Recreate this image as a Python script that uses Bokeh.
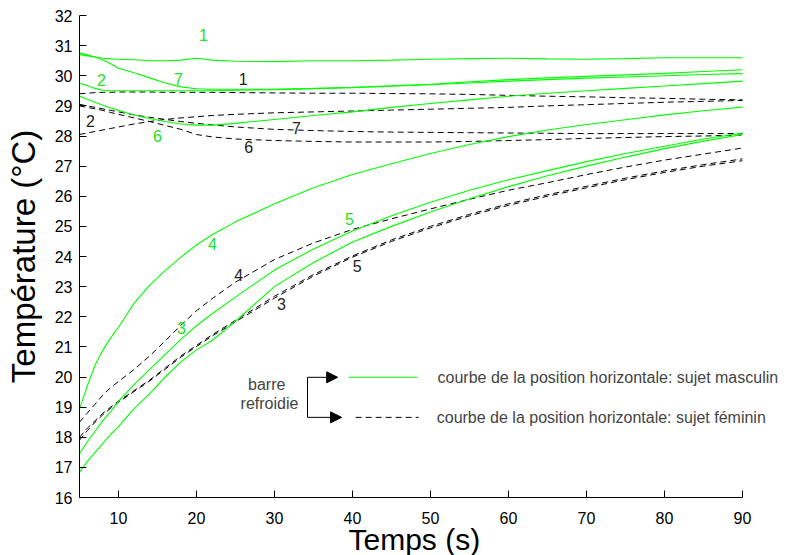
from bokeh.plotting import figure
from bokeh.models import FixedTicker, Arrow, NormalHead, Label, Range1d, Title
from bokeh.embed import file_html
from bokeh.resources import INLINE

# ---- data ----
time_s = [5, 6, 7, 8, 9, 10, 12, 14, 16, 18, 20, 22, 25, 30, 35, 40, 45, 50, 55, 60, 65, 70, 75, 80, 85, 90]

# male subject (green solid)
male_1 = [30.70, 30.66, 30.62, 30.58, 30.56, 30.55, 30.53, 30.50, 30.50, 30.52, 30.58, 30.52, 30.48, 30.47, 30.50, 30.50, 30.52, 30.55, 30.57, 30.58, 30.56, 30.55, 30.57, 30.60, 30.60, 30.60]
male_2 = [29.75, 29.68, 29.58, 29.52, 29.50, 29.50, 29.50, 29.50, 29.50, 29.50, 29.50, 29.50, 29.52, 29.54, 29.57, 29.60, 29.65, 29.70, 29.76, 29.82, 29.87, 29.92, 29.96, 30.00, 30.04, 30.07]
male_3 = [16.84, 17.20, 17.50, 17.80, 18.10, 18.35, 18.95, 19.45, 20.00, 20.50, 20.90, 21.21, 21.85, 23.00, 23.80, 24.48, 25.00, 25.48, 25.92, 26.32, 26.68, 27.00, 27.30, 27.58, 27.83, 28.05]
male_4 = [18.94, 19.70, 20.40, 20.90, 21.30, 21.65, 22.45, 23.05, 23.54, 23.98, 24.38, 24.72, 25.15, 25.75, 26.28, 26.72, 27.08, 27.42, 27.72, 27.98, 28.20, 28.38, 28.54, 28.70, 28.84, 28.96]
male_5 = [17.45, 17.85, 18.20, 18.55, 18.85, 19.20, 19.75, 20.25, 20.75, 21.25, 21.70, 22.10, 22.65, 23.55, 24.25, 24.85, 25.35, 25.80, 26.20, 26.55, 26.85, 27.15, 27.42, 27.66, 27.90, 28.10]
male_6 = [29.32, 29.22, 29.12, 29.02, 28.93, 28.85, 28.70, 28.58, 28.48, 28.40, 28.36, 28.36, 28.42, 28.55, 28.68, 28.80, 28.95, 29.08, 29.20, 29.32, 29.42, 29.50, 29.58, 29.66, 29.74, 29.82]
male_7 = [30.75, 30.70, 30.62, 30.52, 30.40, 30.25, 30.10, 29.93, 29.76, 29.63, 29.57, 29.55, 29.55, 29.55, 29.58, 29.62, 29.67, 29.72, 29.80, 29.87, 29.93, 29.98, 30.03, 30.08, 30.14, 30.20]

# female subject (black dashed)
female_1 = [29.40, 29.42, 29.44, 29.45, 29.45, 29.46, 29.46, 29.46, 29.45, 29.45, 29.45, 29.45, 29.44, 29.43, 29.42, 29.42, 29.41, 29.40, 29.38, 29.35, 29.32, 29.30, 29.27, 29.25, 29.22, 29.20]
female_2 = [28.05, 28.10, 28.15, 28.20, 28.25, 28.30, 28.40, 28.48, 28.55, 28.60, 28.64, 28.68, 28.72, 28.77, 28.80, 28.83, 28.86, 28.89, 28.92, 28.95, 29.00, 29.04, 29.08, 29.12, 29.15, 29.18]
female_3 = [18.00, 18.30, 18.55, 18.80, 19.00, 19.20, 19.55, 19.90, 20.30, 20.70, 21.05, 21.40, 21.88, 22.68, 23.40, 24.02, 24.55, 25.00, 25.40, 25.75, 26.05, 26.33, 26.60, 26.84, 27.05, 27.24]
female_4 = [18.50, 18.80, 19.10, 19.40, 19.65, 19.85, 20.25, 20.70, 21.20, 21.72, 22.20, 22.60, 23.15, 23.90, 24.45, 24.90, 25.25, 25.58, 25.90, 26.20, 26.45, 26.72, 26.97, 27.20, 27.40, 27.60]
female_5 = [17.90, 18.22, 18.50, 18.75, 18.96, 19.16, 19.52, 19.87, 20.26, 20.66, 21.01, 21.36, 21.83, 22.62, 23.35, 23.98, 24.50, 24.95, 25.35, 25.70, 26.00, 26.28, 26.55, 26.79, 27.00, 27.18]
female_6 = [29.00, 28.95, 28.90, 28.85, 28.78, 28.72, 28.60, 28.48, 28.35, 28.22, 28.05, 27.97, 27.90, 27.85, 27.82, 27.80, 27.80, 27.80, 27.82, 27.85, 27.88, 27.92, 27.95, 27.98, 28.00, 28.03]
female_7 = [29.05, 29.00, 28.95, 28.90, 28.85, 28.80, 28.70, 28.62, 28.55, 28.48, 28.42, 28.37, 28.30, 28.22, 28.18, 28.15, 28.13, 28.12, 28.11, 28.10, 28.09, 28.08, 28.08, 28.08, 28.08, 28.08]

x_ticks = [10, 20, 30, 40, 50, 60, 70, 80, 90]
y_ticks = list(range(16, 33))

curve_names = ["1", "2", "3", "4", "5", "6", "7"]
male_series = [male_1, male_2, male_3, male_4, male_5, male_6, male_7]
female_series = [female_1, female_2, female_3, female_4, female_5, female_6, female_7]

GREEN = "#00ff00"
LABEL_GREEN = "#22e022"
FONT = "Liberation Sans"

# frame: x from 5 to 90 drawn on the axis, extra room on the right for the legend text
p = figure(width=792, height=555, x_range=Range1d(5, 95.77), y_range=Range1d(16, 32),
           output_backend="svg", toolbar_location=None,
           min_border_left=79, min_border_right=5, min_border_top=15, min_border_bottom=58)
p.grid.visible = False
p.outline_line_color = None
p.background_fill_color = "white"
p.border_fill_color = "white"

for ys in female_series:
    p.line(time_s, ys, line_color="black", line_width=1, line_dash="6 4")
for ys in male_series:
    p.line(time_s, ys, line_color=GREEN, line_width=1.1)

# axes
p.xaxis.ticker = FixedTicker(ticks=x_ticks)
p.yaxis.ticker = FixedTicker(ticks=y_ticks)
p.xaxis.bounds = (5, 90)
for ax in (p.xaxis[0], p.yaxis[0]):
    ax.major_tick_in = 7
    ax.major_tick_out = 0
    ax.minor_tick_line_color = None
    ax.axis_line_color = "black"
    ax.major_tick_line_color = "black"
    ax.major_label_text_font = FONT
    ax.major_label_text_font_size = "16px"
    ax.major_label_text_color = "black"
    ax.axis_label_text_font = FONT
    ax.axis_label_text_font_size = "33px"
    ax.axis_label_text_font_style = "normal"
    ax.axis_label_text_color = "black"
p.yaxis.axis_label = "Température (°C)"
p.xaxis.major_label_standoff = 14
p.yaxis.major_label_standoff = 7
p.yaxis.axis_label_standoff = 10

xtitle = Title(text="Temps (s)", align="left", offset=269, text_font=FONT, text_font_size="30px",
               text_font_style="normal", text_color="black", standoff=-12)
p.add_layout(xtitle, "below")

# curve number labels (annotation positions)
male_label_pos = [(20.9, 31.34), (7.82, 29.85), (18.08, 21.64), (22.05, 24.4), (39.6, 25.23), (15.0, 28.0), (17.7, 29.9)]
female_label_pos = [(26.0, 29.9), (6.4, 28.5), (30.9, 22.43), (25.4, 23.37), (40.6, 23.67), (26.7, 27.62), (32.8, 28.28)]
for name, (lx, ly) in zip(curve_names, male_label_pos):
    p.add_layout(Label(x=lx, y=ly, text=name, text_font=FONT, text_font_size="16px",
                       text_color=LABEL_GREEN, text_align="center", text_baseline="middle"))
for name, (lx, ly) in zip(curve_names, female_label_pos):
    p.add_layout(Label(x=lx, y=ly, text=name, text_font=FONT, text_font_size="16px",
                       text_color="#222222", text_align="center", text_baseline="middle"))

# legend-like annotation
y_top, y_bot = 19.99, 18.66
x_br = 34.23
p.add_layout(Label(x=29.0, y=19.74, text="barre", text_font=FONT, text_font_size="16px",
                   text_align="center", text_baseline="middle"))
p.add_layout(Label(x=29.36, y=19.12, text="refroidie", text_font=FONT, text_font_size="16px",
                   text_align="center", text_baseline="middle"))
p.segment(x0=[x_br], y0=[y_bot], x1=[x_br], y1=[y_top], line_color="black", line_width=1)
for yy, xe in ((y_top, 38.1), (y_bot, 38.6)):
    p.add_layout(Arrow(end=NormalHead(size=11, fill_color="black", line_color="black"),
                       x_start=x_br, y_start=yy, x_end=xe, y_end=yy, line_color="black", line_width=1))
p.segment(x0=[39.5], y0=[y_top], x1=[48.3], y1=[y_top], line_color=GREEN, line_width=1.1)
p.segment(x0=[40.4], y0=[y_bot], x1=[48.5], y1=[y_bot], line_color="black", line_width=1, line_dash="6 4")
p.add_layout(Label(x=50.9, y=y_top, text="courbe de la position horizontale: sujet masculin",
                   text_font=FONT, text_font_size="16px", text_baseline="middle"))
p.add_layout(Label(x=50.8, y=y_bot, text="courbe de la position horizontale: sujet féminin",
                   text_font=FONT, text_font_size="16px", text_baseline="middle"))

open("out.html", "w").write(file_html(p, INLINE))
